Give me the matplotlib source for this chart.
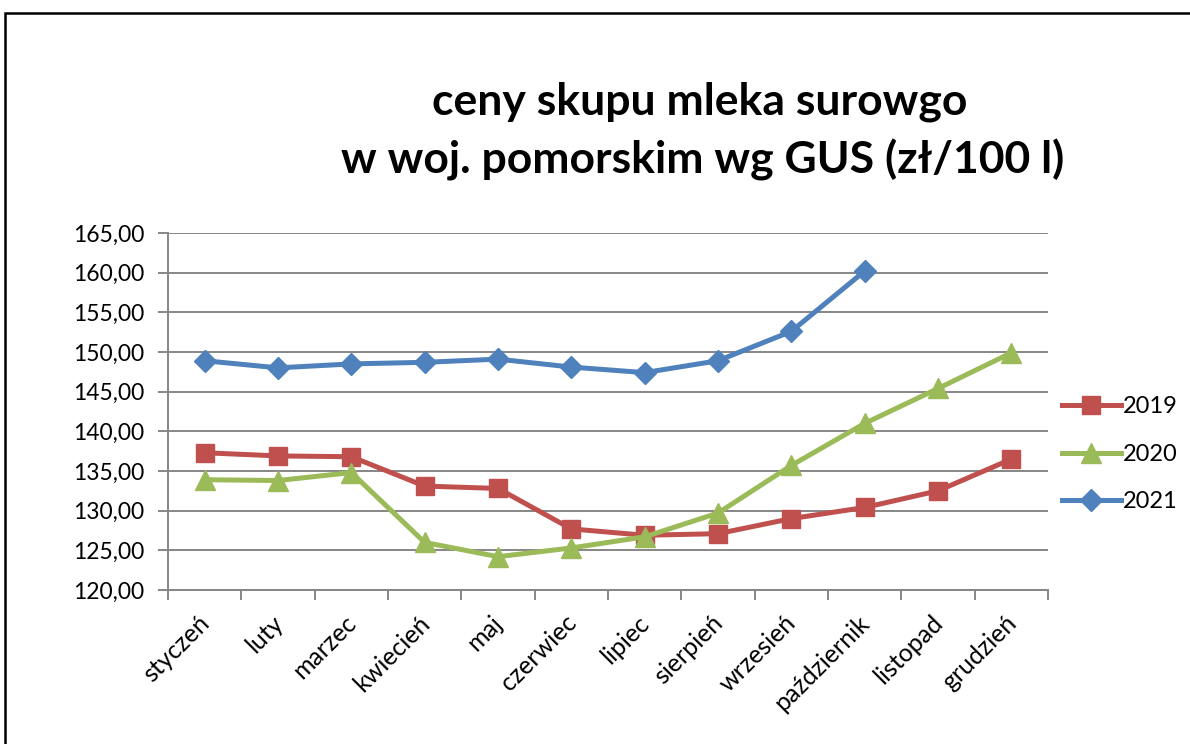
import matplotlib
matplotlib.use("Agg")
import matplotlib.pyplot as plt
from matplotlib.patches import Rectangle
from matplotlib.transforms import ScaledTranslation
import numpy as np

months = ["styczeń", "luty", "marzec", "kwiecień", "maj", "czerwiec",
          "lipiec", "sierpień", "wrzesień", "październik", "listopad", "grudzień"]
y2019 = [137.3, 136.9, 136.8, 133.1, 132.8, 127.7, 126.9, 127.1, 129.0, 130.4, 132.5, 136.5]
y2020 = [133.9, 133.8, 134.8, 126.0, 124.2, 125.3, 126.7, 129.7, 135.7, 141.0, 145.4, 149.9]
y2021 = [148.9, 148.0, 148.5, 148.7, 149.1, 148.1, 147.4, 148.9, 152.6, 160.2]
yticks = [120, 125, 130, 135, 140, 145, 150, 155, 160, 165]

FONT = "Lato"
plt.rcParams['font.family'] = [FONT, 'DejaVu Sans']

fig = plt.figure(figsize=(11.9, 7.44), dpi=100)
fig.patches.append(Rectangle((5/1190, -0.05), 1.2, 1.05 - 13/744, transform=fig.transFigure,
                             fill=False, edgecolor='black', linewidth=1.8, zorder=0))

ax = fig.add_axes([168/1190, 1 - 590/744, 880/1190, 357/744])

c19, c20, c21 = "#C0504D", "#9BBB59", "#4F81BD"
x = np.arange(len(months))
ax.plot(x, y2019, color=c19, lw=3.6, marker='s', ms=13, label='2019', zorder=3)
ax.plot(x, y2020, color=c20, lw=3.6, marker='^', ms=15, label='2020', zorder=4)
ax.plot(x[:len(y2021)], y2021, color=c21, lw=3.6, marker='D', ms=11, label='2021', zorder=3)

ax.set_xlim(-0.5, len(months) - 0.5)
ax.set_ylim(120, 165)
ax.set_yticks(yticks)
ax.set_yticklabels([f"{v:.2f}".replace('.', ',') for v in yticks], fontsize=16.5)
ax.yaxis.grid(True, color='#868686', lw=1.4)
ax.set_axisbelow(True)

ax.set_xticks(x)
ax.set_xticklabels(months, rotation=45, ha='right', va='center', rotation_mode='anchor', fontsize=18)
ax.set_xticks(np.arange(-0.5, len(months)), minor=True)
ax.tick_params(axis='x', which='major', length=0, pad=21)
ax.tick_params(axis='x', which='minor', length=7, width=1.4, color='#868686')
ax.tick_params(axis='y', length=7, width=1.4, color='#868686', pad=10)
shift = ScaledTranslation(1/100, 0, fig.dpi_scale_trans)
for lbl in ax.get_xticklabels():
    lbl.set_transform(lbl.get_transform() + shift)

for s in ['top', 'right']:
    ax.spines[s].set_visible(False)
for s in ['left', 'bottom']:
    ax.spines[s].set_color('#868686')
    ax.spines[s].set_linewidth(1.4)

ax.legend(loc='center left', bbox_to_anchor=(1.005, 0.38), frameon=False, fontsize=17,
          handlelength=2.5, handletextpad=0.1, labelspacing=1.12, borderaxespad=0)

fig.text(700/1190, 1 - 102/744, "ceny skupu mleka surowgo", ha='center', va='center',
         fontsize=32, fontweight='bold')
fig.text(703/1190, 1 - 160/744, "w woj. pomorskim wg GUS (zł/100 l)", ha='center', va='center',
         fontsize=32, fontweight='bold')

fig.savefig("out.png", dpi=100)
